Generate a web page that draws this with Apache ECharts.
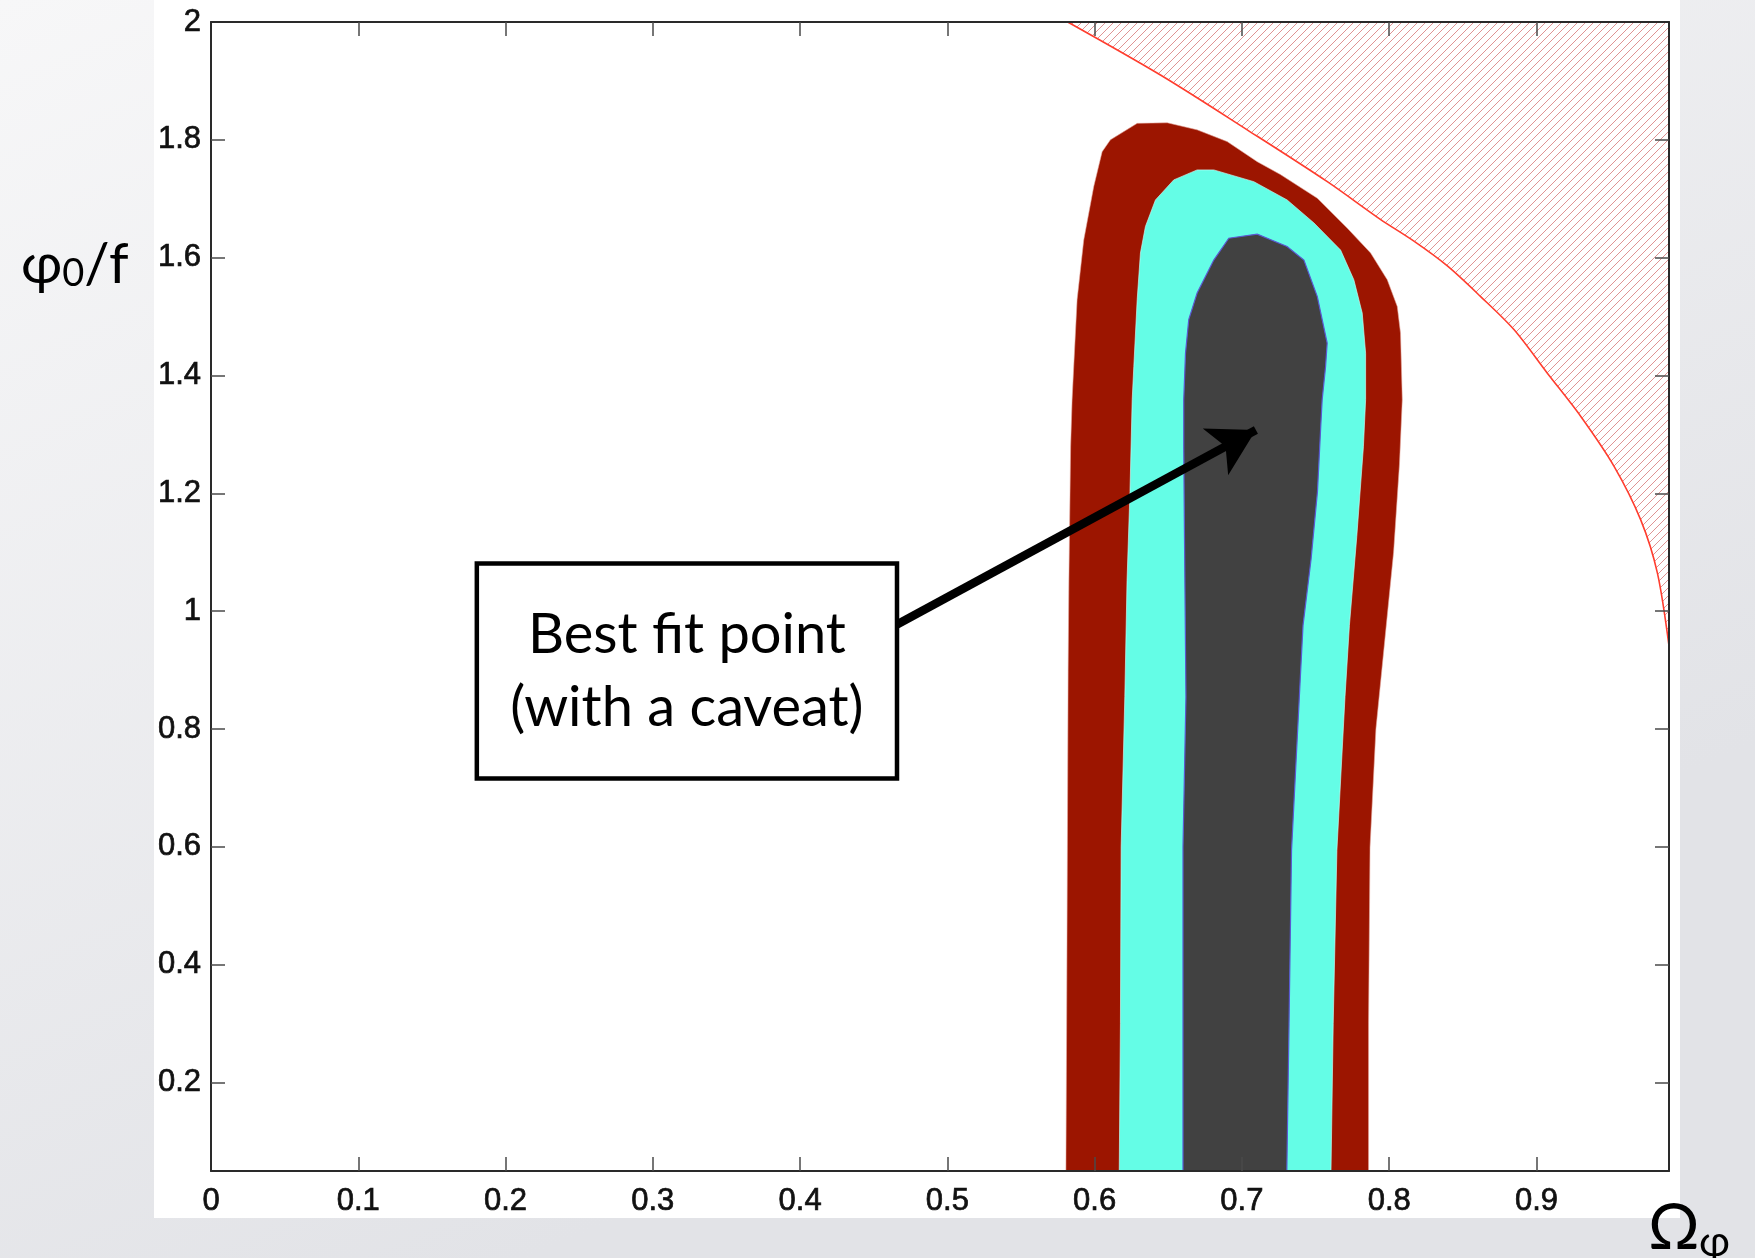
<!DOCTYPE html>
<html>
<head>
<meta charset="utf-8">
<script src="https://cdn.jsdelivr.net/npm/echarts@6/dist/echarts.min.js"></script>
<style>
html,body{margin:0;padding:0;background:#eceded;}
#c{width:1755px;height:1258px;}
</style>
</head>
<body>
<div id="c"></div>
<script>
// ---- tick labels ----
const xTicks = [0, 0.1, 0.2, 0.3, 0.4, 0.5, 0.6, 0.7, 0.8, 0.9];
const yTicks = [0.2, 0.4, 0.6, 0.8, 1, 1.2, 1.4, 1.6, 1.8, 2];
const xRange = [0, 0.99];
const yRange = [0.05, 2];

// ---- outer (dark red) contour ----
const redX = [0.5805, 0.581, 0.5815, 0.582, 0.5825, 0.5837, 0.5847, 0.5858, 0.5881, 0.5926, 0.5994, 0.6051, 0.6107,
              0.6289, 0.6493, 0.6696, 0.690, 0.7104, 0.7262, 0.7512, 0.7716, 0.7874, 0.7987, 0.8055, 0.8077, 0.8089,
              0.807, 0.803, 0.797, 0.791, 0.787, 0.786, 0.786];
const redY = [0.05, 0.3, 0.6, 0.9, 1.05, 1.279, 1.359, 1.415, 1.529, 1.630, 1.721, 1.780, 1.800,
              1.828, 1.829, 1.817, 1.797, 1.763, 1.741, 1.701, 1.650, 1.608, 1.5625, 1.517, 1.472, 1.359,
              1.25, 1.1, 0.95, 0.8, 0.6, 0.3, 0.05];

// ---- middle (cyan) contour ----
const cyanX = [0.6167, 0.6175, 0.618, 0.6205, 0.622, 0.624, 0.6255, 0.6266, 0.6289, 0.6311, 0.6345, 0.6413, 0.6537,
               0.6696, 0.6809, 0.7081, 0.7307, 0.7489, 0.767, 0.776, 0.7817, 0.784, 0.784,
               0.7825, 0.778, 0.773, 0.770, 0.7645, 0.762, 0.7605];
const cyanY = [0.05, 0.3, 0.6, 0.855, 1.052, 1.203, 1.359, 1.415, 1.529, 1.608, 1.653, 1.698, 1.732,
               1.749, 1.749, 1.729, 1.698, 1.659, 1.613, 1.5625, 1.506, 1.438, 1.359,
               1.279, 1.127, 0.976, 0.855, 0.594, 0.3, 0.05];

// ---- inner (dark grey) contour ----
const grayX = [0.660, 0.660, 0.662, 0.661, 0.6605, 0.6605, 0.6617, 0.6639, 0.6696, 0.6809, 0.6911,
               0.7104, 0.7307, 0.7421, 0.7512, 0.7579, 0.7568, 0.7545, 0.7536, 0.7513, 0.747, 0.7415, 0.739, 0.7337, 0.732, 0.7305];
const grayY = [0.05, 0.6, 0.855, 1.127, 1.279, 1.359, 1.438, 1.495, 1.540, 1.596, 1.633,
               1.640, 1.619, 1.596, 1.534, 1.455, 1.415, 1.359, 1.317, 1.203, 1.089, 0.976, 0.855, 0.594, 0.3, 0.05];

// ---- excluded region boundary (red curve, hatched above) ----
const boundX = [0.5817, 0.6447, 0.7036, 0.758, 0.794, 0.8168, 0.8395, 0.8621, 0.8847, 0.9074, 0.930, 0.9527, 0.9708, 0.9821, 0.990];
const boundY = [2.0, 1.910, 1.817, 1.729, 1.665, 1.628, 1.586, 1.534, 1.478, 1.404, 1.331, 1.246, 1.155, 1.065, 0.941];

// ---- annotation ----
const boxCorners = [[0.1805, 1.081], [0.4658, 0.716]];
const boxLines = ['Best fit point', '(with a caveat)'];
const arrowFrom = [0.4658, 0.9775];
const arrowTo = [0.7095, 1.3076];

const GILL = 'Lato, "Noto Sans", "Open Sans", sans-serif';
const HELV = '"Liberation Sans", Arial, sans-serif';

function zip(xs, ys) { return xs.map((x, i) => [x, ys[i]]); }

function polygonSeries(name, pts, style, z) {
  return {
    name: name,
    type: 'custom',
    coordinateSystem: 'cartesian2d',
    xAxisIndex: 0, yAxisIndex: 0,
    data: pts,
    encode: { x: 0, y: 1 },
    z: z,
    silent: true,
    animation: false,
    clip: true,
    renderItem: function (params, api) {
      if (params.dataIndex !== 0) return null;
      return {
        type: 'polygon',
        shape: { points: pts.map(p => api.coord(p)) },
        style: style
      };
    }
  };
}

// hatch pattern
const T = 8;
const pc = document.createElement('canvas');
pc.width = T; pc.height = T;
const pctx = pc.getContext('2d');
pctx.strokeStyle = 'rgba(212,112,112,0.75)';
pctx.lineWidth = 1;
pctx.beginPath();
pctx.moveTo(0, T); pctx.lineTo(T, 0);
pctx.moveTo(-1, 1); pctx.lineTo(1, -1);
pctx.moveTo(T - 1, T + 1); pctx.lineTo(T + 1, T - 1);
pctx.stroke();

const chart = echarts.init(document.getElementById('c'), null, { renderer: 'canvas' });

const axisLineStyle = { color: '#2a2a2a', width: 2 };
const tickStyle = { color: '#4a4a4a', width: 1.5 };
const fmt = v => String(+(+v).toFixed(2));
const labelStyle = { fontSize: 31, color: '#111', fontFamily: HELV, textBorderColor: '#111', textBorderWidth: 0.7 };

function mkAxis(pos, range, ticks, showLabels, margin) {
  return {
    type: 'value', min: range[0], max: range[1], position: pos, z: 20,
    axisLine: { show: true, onZero: false, lineStyle: axisLineStyle },
    axisTick: { show: true, inside: true, length: 14, lineStyle: tickStyle, customValues: ticks.filter(v => v > range[0] && v < range[1]) },
    axisLabel: showLabels ? Object.assign({ show: true, customValues: ticks, formatter: fmt, margin: margin }, labelStyle) : { show: false },
    splitLine: { show: false }
  };
}

chart.setOption({
  animation: false,
  grid: { left: 211, right: 86, top: 22, bottom: 87, containLabel: false },
  xAxis: [
    mkAxis('bottom', xRange, xTicks, true, 15),
    mkAxis('top', xRange, xTicks, false, 0)
  ],
  yAxis: [
    mkAxis('left', yRange, yTicks, true, 10),
    mkAxis('right', yRange, yTicks, false, 0)
  ],
  graphic: [
    {
      type: 'rect', z: -100, silent: true,
      shape: { x: 0, y: 0, width: 1755, height: 1258 },
      style: {
        fill: new echarts.graphic.LinearGradient(0, 0, 0.3, 1, [
          { offset: 0, color: '#f7f7f8' },
          { offset: 1, color: '#e2e3e7' }
        ])
      }
    },
    {
      type: 'rect', z: -90, silent: true,
      shape: { x: 154, y: 0, width: 1526, height: 1218 },
      style: { fill: '#ffffff' }
    },
    {
      type: 'text', z: 100, silent: true, x: 21, y: 265,
      style: {
        text: '{a|φ}{b|0}{a|/f}',
        verticalAlign: 'middle',
        rich: {
          a: { fontSize: 56, fontFamily: GILL, fill: '#000', verticalAlign: 'bottom' },
          b: { fontSize: 38, fontFamily: GILL, fill: '#000', verticalAlign: 'bottom' }
        }
      }
    },
    {
      type: 'text', z: 100, silent: true, x: 1648, y: 1228,
      style: { text: 'Ω', fontSize: 64, fontFamily: GILL, fill: '#000', verticalAlign: 'middle' }
    },
    {
      type: 'text', z: 100, silent: true, x: 1699, y: 1242,
      style: { text: 'φ', fontSize: 42, fontFamily: GILL, fill: '#000', verticalAlign: 'middle' }
    }
  ],
  series: [
    polygonSeries('2 sigma', zip(redX, redY), { fill: '#9c1500', stroke: 'rgba(230,170,160,0.7)', lineWidth: 0.8 }, 3),
    polygonSeries('1.5 sigma', zip(cyanX, cyanY), { fill: '#64fde6', stroke: 'rgba(200,255,248,0.8)', lineWidth: 0.8 }, 4),
    polygonSeries('1 sigma', zip(grayX, grayY), { fill: '#414141', stroke: '#5a5ad2', lineWidth: 1.2 }, 5),
    {
      name: 'excluded', type: 'line', data: zip(boundX, boundY), z: 6,
      showSymbol: false, symbol: 'none', smooth: 0.3, silent: true,
      lineStyle: { color: '#ff3d2e', width: 1.6 },
      areaStyle: { origin: 'end', color: { image: pc, repeat: 'repeat' }, opacity: 1 }
    },
    {
      name: 'annotation', type: 'line', data: [], z: 10, silent: true,
      markArea: {
        silent: true, z: 8,
        itemStyle: { color: '#ffffff', borderColor: '#000000', borderWidth: 4.5 },
        label: {
          show: true, position: 'inside', formatter: boxLines.join('\n'),
          fontSize: 56, lineHeight: 73, color: '#000', fontFamily: GILL, align: 'center', verticalAlign: 'middle'
        },
        data: [[{ coord: boxCorners[0] }, { coord: boxCorners[1] }]]
      },
      markLine: {
        silent: true, z: 30,
        symbol: ['none', 'arrow'],
        symbolSize: [40, 46],
        lineStyle: { color: '#000000', width: 8.5, type: 'solid', opacity: 1 },
        label: { show: false },
        data: [[{ coord: arrowFrom }, { coord: arrowTo }]]
      }
    }
  ]
});
</script>
</body>
</html>
